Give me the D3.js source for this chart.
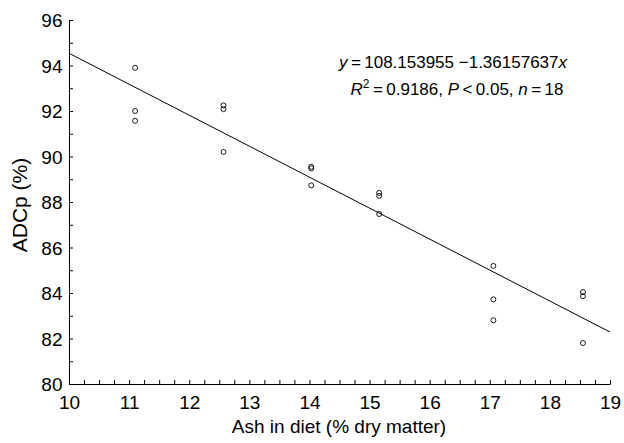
<!DOCTYPE html>
<html>
<head>
<meta charset="utf-8">
<script src="https://cdn.jsdelivr.net/npm/d3@7.9.0/dist/d3.min.js"></script>
<style>
  body { margin: 0; background: #fff; }
  svg { font-family: "Liberation Sans", Arial, sans-serif; }
</style>
</head>
<body>
<div id="chart"></div>
<script>
// data
const ashX = [11.1, 11.1, 11.1, 12.57, 12.57, 12.57, 14.03, 14.03, 14.03,
              15.16, 15.16, 15.16, 17.06, 17.06, 17.06, 18.55, 18.55, 18.55];
const adcpY = [93.9, 92.0, 91.57, 92.25, 92.08, 90.2, 89.55, 89.48, 88.73,
               88.4, 88.27, 87.47, 85.19, 83.72, 82.8, 84.04, 83.86, 81.8];
const intercept = 108.153955;
const slope = -1.36157637;
const xTicks = [10, 11, 12, 13, 14, 15, 16, 17, 18, 19];
const yTicks = [80, 82, 84, 86, 88, 90, 92, 94, 96];

const width = 624;
const height = 443;
const margin = { top: 20, right: 14, bottom: 59, left: 69 };

const svg = d3.select('#chart')
  .append('svg')
  .attr('width', width)
  .attr('height', height);

const x = d3.scaleLinear()
  .domain([10, 19])
  .range([margin.left, width - margin.right]);

const y = d3.scaleLinear()
  .domain([80, 96])
  .range([height - margin.bottom, margin.top]);

// minor ticks (every 0.25 on x, every 1 on y)
const xMinor = d3.range(10, 19.001, 0.25);
const yMinor = d3.range(80, 96.001, 1);
const isLabelled = (d, list) => list.some(t => Math.abs(t - d) < 1e-6);

const xAxisG = svg.append('g')
  .attr('transform', `translate(0,${y(80)})`);
xAxisG.call(d3.axisBottom(x).tickValues(xMinor).tickSize(-4).tickFormat('').tickSizeOuter(0));
xAxisG.selectAll('text').remove();
xAxisG.selectAll('.tick').filter(d => isLabelled(d, xTicks))
  .append('text')
  .attr('y', 25)
  .attr('text-anchor', 'middle')
  .attr('fill', '#000')
  .style('font-size', '19px')
  .text(d => Math.round(d));

const yAxisG = svg.append('g')
  .attr('transform', `translate(${x(10)},0)`);
yAxisG.call(d3.axisLeft(y).tickValues(yMinor).tickSize(-4).tickFormat('').tickSizeOuter(0));
yAxisG.selectAll('text').remove();
yAxisG.selectAll('.tick').filter(d => isLabelled(d, yTicks))
  .append('text')
  .attr('x', -6.5)
  .attr('dy', '0.36em')
  .attr('text-anchor', 'end')
  .attr('fill', '#000')
  .style('font-size', '19px')
  .text(d => Math.round(d));

svg.selectAll('.domain, .tick line')
  .attr('stroke', '#000')
  .attr('stroke-width', 1);

// regression line
svg.append('line')
  .attr('x1', x(10))
  .attr('y1', y(intercept + slope * 10))
  .attr('x2', x(19))
  .attr('y2', y(intercept + slope * 19))
  .attr('stroke', '#000')
  .attr('stroke-width', 1);

// data points
svg.selectAll('.pt')
  .data(ashX.map((d, i) => ({ ash: d, adcp: adcpY[i] })))
  .enter()
  .append('circle')
  .attr('class', 'pt')
  .attr('cx', d => x(d.ash))
  .attr('cy', d => y(d.adcp))
  .attr('r', 2.5)
  .attr('fill', 'none')
  .attr('stroke', '#000')
  .attr('stroke-width', 0.9);

// equation text
const eq = svg.append('text')
  .attr('x', 453)
  .attr('y', 68)
  .attr('text-anchor', 'middle')
  .style('font-size', '17px');
eq.append('tspan').style('font-style', 'italic').text('y');
eq.append('tspan').text('\u2009=\u2009108.153955 \u22121.36157637');
eq.append('tspan').style('font-style', 'italic').text('x');

const r2 = svg.append('text')
  .attr('x', 457)
  .attr('y', 95)
  .attr('text-anchor', 'middle')
  .style('font-size', '17px');
r2.append('tspan').style('font-style', 'italic').text('R');
r2.append('tspan').attr('dy', -7).style('font-size', '12px').text('2');
r2.append('tspan').attr('dy', 7).text('\u2009=\u20090.9186, ');
r2.append('tspan').style('font-style', 'italic').text('P');
r2.append('tspan').text('\u2009<\u20090.05, ');
r2.append('tspan').style('font-style', 'italic').text('n');
r2.append('tspan').text('\u2009=\u200918');

// axis titles
svg.append('text')
  .attr('x', 339)
  .attr('y', 433)
  .attr('text-anchor', 'middle')
  .style('font-size', '19px')
  .text('Ash in diet (% dry matter)');

svg.append('text')
  .attr('transform', `translate(26.5,${(y(80) + y(96)) / 2 + 3}) rotate(-90)`)
  .attr('text-anchor', 'middle')
  .style('font-size', '21px')
  .text('ADCp (%)');
</script>
</body>
</html>
